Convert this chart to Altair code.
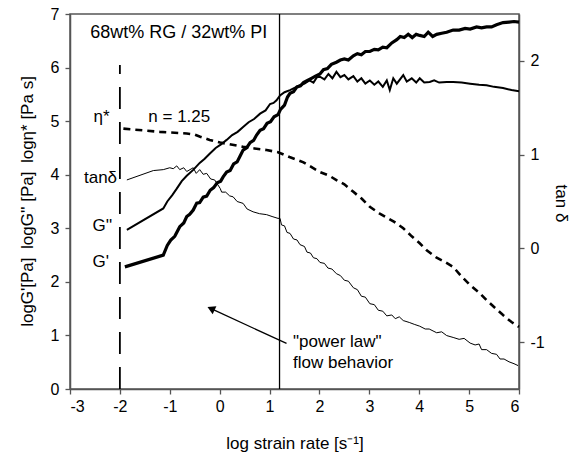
import altair as alt
import pandas as pd

FONT = "Liberation Sans"

# ---- G' (storage modulus, log Pa) ----
gp_x = [-1.90, -1.13, -1.05, -0.98, -0.90, -0.80, -0.72, -0.66, -0.60, -0.53, -0.46, -0.40, -0.33, -0.26,
        -0.19, -0.12, -0.05, 0.02, 0.07, 0.14, 0.21, 0.28, 0.35, 0.41, 0.47, 0.54, 0.61, 0.68, 0.74, 0.81,
        0.88, 0.95, 1.02, 1.09, 1.17, 1.22, 1.30, 1.36, 1.41, 1.48, 1.55, 1.62, 1.68, 1.76, 1.84, 1.92,
        2.01, 2.08, 2.16, 2.24, 2.34, 2.42, 2.50, 2.58, 2.68, 2.76, 2.84, 2.92, 3.01, 3.10, 3.18, 3.27,
        3.35, 3.45, 3.55, 3.62, 3.70, 3.78, 3.86, 3.94, 4.01, 4.10, 4.18, 4.27, 4.35, 4.45, 4.55, 4.68,
        4.80, 4.92, 5.02, 5.15, 5.25, 5.35, 5.45, 5.55, 5.68, 5.80, 5.90, 6.00]
gp_y = [2.28, 2.50, 2.68, 2.78, 2.85, 3.03, 3.10, 3.22, 3.26, 3.34, 3.47, 3.48, 3.58, 3.60,
        3.71, 3.76, 3.85, 3.88, 3.96, 4.05, 4.08, 4.20, 4.24, 4.35, 4.46, 4.50, 4.60, 4.64, 4.74, 4.83,
        4.86, 4.96, 4.99, 5.08, 5.12, 5.22, 5.30, 5.45, 5.52, 5.55, 5.64, 5.66, 5.72, 5.76, 5.80, 5.84,
        5.88, 5.96, 5.98, 6.06, 6.10, 6.14, 6.16, 6.14, 6.22, 6.26, 6.24, 6.30, 6.30, 6.34, 6.33, 6.38,
        6.37, 6.46, 6.52, 6.58, 6.56, 6.62, 6.56, 6.62, 6.60, 6.58, 6.66, 6.58, 6.62, 6.64, 6.66, 6.70,
        6.70, 6.73, 6.72, 6.76, 6.74, 6.76, 6.76, 6.80, 6.84, 6.85, 6.86, 6.85]

# ---- G'' (loss modulus, log Pa) ----
gpp_x = [-1.86, -1.13, -1.05, -0.95, -0.86, -0.76, -0.66, -0.53, -0.40, -0.30, -0.19, -0.08, 0.02, 0.14,
         0.25, 0.36, 0.47, 0.58, 0.69, 0.81, 0.92, 1.01, 1.08, 1.14, 1.21, 1.30, 1.41, 1.50, 1.61, 1.70,
         1.80, 1.88, 1.95, 2.01, 2.10, 2.18, 2.26, 2.34, 2.42, 2.50, 2.58, 2.68, 2.76, 2.84, 2.92, 3.01,
         3.10, 3.18, 3.27, 3.35, 3.41, 3.48, 3.55, 3.68, 3.75, 3.85, 3.94, 4.01, 4.10, 4.21, 4.30, 4.40,
         4.55, 4.68, 4.85, 5.02, 5.20, 5.35, 5.50, 5.68, 5.85, 6.00]
gpp_y = [2.97, 3.37, 3.50, 3.62, 3.74, 3.88, 3.98, 4.09, 4.22, 4.30, 4.40, 4.50, 4.56, 4.65,
         4.74, 4.80, 4.89, 4.98, 5.04, 5.14, 5.20, 5.32, 5.34, 5.39, 5.48, 5.54, 5.58, 5.62, 5.67, 5.70,
         5.76, 5.72, 5.82, 5.83, 5.78, 5.88, 5.80, 5.92, 5.82, 5.86, 5.78, 5.84, 5.74, 5.80, 5.70, 5.76,
         5.68, 5.74, 5.64, 5.76, 5.58, 5.80, 5.70, 5.86, 5.74, 5.80, 5.72, 5.80, 5.72, 5.73, 5.76, 5.72,
         5.73, 5.73, 5.72, 5.70, 5.68, 5.67, 5.64, 5.62, 5.58, 5.56]

# ---- complex viscosity eta* (log Pa s) ----
eta_x = [-1.93, -1.20, -0.66, -0.50, -0.39, -0.20, 0.01, 0.20, 0.47, 0.70, 0.94, 1.17, 1.40, 1.68,
         2.01, 2.20, 2.34, 2.50, 2.68, 2.85, 3.01, 3.20, 3.35, 3.50, 3.68, 3.85, 4.01, 4.15, 4.35,
         4.50, 4.68, 4.85, 5.02, 5.20, 5.35, 5.50, 5.68, 5.85, 6.00]
eta_y = [4.86, 4.80, 4.77, 4.75, 4.71, 4.65, 4.60, 4.57, 4.52, 4.49, 4.46, 4.42, 4.33, 4.23,
         4.05, 3.98, 3.90, 3.82, 3.68, 3.55, 3.40, 3.28, 3.20, 3.12, 3.00, 2.85, 2.72, 2.59, 2.45,
         2.38, 2.28, 2.10, 1.94, 1.80, 1.66, 1.53, 1.38, 1.25, 1.16]

# ---- tan delta (right axis) ----
tan_x = [-1.86, -1.33, -1.13, -1.00, -0.93, -0.86, -0.80, -0.72, -0.66, -0.53, -0.47, -0.40, -0.33,
         -0.26, -0.18, -0.10, 0.01, 0.04, 0.12, 0.20, 0.27, 0.35, 0.47, 0.55, 0.67, 0.80, 0.94, 1.05,
         1.17, 1.21, 1.24, 1.30, 1.35, 1.41, 1.48, 1.55, 1.61, 1.70, 1.75, 1.82, 1.88, 1.95, 2.01, 2.10,
         2.17, 2.25, 2.34, 2.42, 2.50, 2.58, 2.68, 2.76, 2.84, 2.92, 3.01, 3.10, 3.18, 3.27, 3.35, 3.45,
         3.52, 3.60, 3.68, 3.80, 3.90, 4.01, 4.12, 4.20, 4.35, 4.45, 4.55, 4.68, 4.80, 4.90, 5.02, 5.12,
         5.20, 5.25, 5.35, 5.45, 5.55, 5.62, 5.70, 5.80, 5.90, 5.98]
tan_y = [0.73, 0.83, 0.84, 0.86, 0.85, 0.88, 0.84, 0.86, 0.82, 0.86, 0.80, 0.84, 0.79,
         0.80, 0.74, 0.73, 0.64, 0.60, 0.60, 0.56, 0.55, 0.50, 0.48, 0.42, 0.39, 0.37, 0.36, 0.34,
         0.32, 0.32, 0.25, 0.24, 0.17, 0.16, 0.10, 0.09, 0.04, 0.02, -0.04, -0.05, -0.10, -0.11, -0.15, -0.16,
         -0.21, -0.22, -0.27, -0.29, -0.34, -0.35, -0.42, -0.44, -0.51, -0.52, -0.59, -0.60, -0.66, -0.67, -0.72, -0.71,
         -0.75, -0.73, -0.77, -0.79, -0.81, -0.83, -0.86, -0.86, -0.90, -0.89, -0.93, -0.95, -0.97, -0.96, -1.01, -1.03,
         -1.02, -1.08, -1.08, -1.12, -1.13, -1.18, -1.18, -1.21, -1.23, -1.25]

# ---- annotations ----
lab_text = ["η*", "n = 1.25", "tanδ", "G''", "G'", "\"power law\"", "flow behavior"]
lab_x = [-2.53, -1.43, -2.72, -2.55, -2.55, 1.47, 1.47]
lab_y = [5.07, 5.07, 3.93, 3.04, 2.37, 0.88, 0.49]
title_text = ["68wt% RG / 32wt% PI"]
title_x = [-0.82]
title_y = [6.64]

vline_x = [-2.0, 1.2]
vline_y0 = [0.0, 0.0]
vline_y1 = [6.05, 7.0]

arrow_x0, arrow_y0 = [1.34], [0.85]
arrow_x1, arrow_y1 = [-0.15], [1.49]

xs = alt.Scale(domain=[-3, 6], nice=False, zero=False)
ys = alt.Scale(domain=[0, 7], nice=False, zero=False)
ts = alt.Scale(domain=[-1.5, 2.5], nice=False, zero=False)

AX = dict(labelFont=FONT, labelFontSize=16, labelColor="black", titleFont=FONT, titleFontSize=17,
          titleFontWeight="normal", titleColor="black", domainColor="#555", domainWidth=1.5,
          tickColor="#555", tickWidth=1.3, tickSize=5, grid=False,
          labelExpr="datum.value + ''")

SP = "\u2002"
xaxis = alt.Axis(values=list(range(-3, 7)), title="log strain rate [s⁻¹]",
                 labelPadding=4, titleY=59, titleBaseline="alphabetic", **AX)
yaxis = alt.Axis(values=list(range(0, 8)),
                 title=f"logG'[Pa]{SP}logG'' [Pa]{SP}logη* [Pa s]", labelPadding=6,
                 titleAngle=270, titleX=-38, titleY=187, titleAlign="center",
                 titleBaseline="alphabetic", **AX)
taxis = alt.Axis(values=[-1, 0, 1, 2], title="tan δ", orient="right",
                 labelPadding=6, titleAngle=90, titleX=36, titleY=189, titleAlign="center",
                 titleBaseline="alphabetic", **AX)

X = alt.X("x:Q", scale=xs, axis=xaxis)
Y = alt.Y("y:Q", scale=ys, axis=yaxis)

df_gp = pd.DataFrame({"x": gp_x, "y": gp_y})
df_gpp = pd.DataFrame({"x": gpp_x, "y": gpp_y})
df_eta = pd.DataFrame({"x": eta_x, "y": eta_y})
df_tan = pd.DataFrame({"x": tan_x, "y": tan_y})
df_lab = pd.DataFrame({"x": lab_x, "y": lab_y, "t": lab_text})
df_title = pd.DataFrame({"x": title_x, "y": title_y, "t": title_text})
df_v = pd.DataFrame({"x": vline_x, "y": vline_y0, "y2": vline_y1})
df_arrow = pd.DataFrame({"x": arrow_x0, "y": arrow_y0, "x2": arrow_x1, "y2": arrow_y1})
df_head = pd.DataFrame({"x": arrow_x1, "y": arrow_y1})

gp = alt.Chart(df_gp).mark_line(color="black", strokeWidth=3.2).encode(x=X, y=Y, order="x:Q")
gpp = alt.Chart(df_gpp).mark_line(color="black", strokeWidth=2).encode(x=X, y=Y, order="x:Q")
eta = alt.Chart(df_eta).mark_line(color="black", strokeWidth=2.6, strokeDash=[7, 5]).encode(x=X, y=Y, order="x:Q")

vdash = alt.Chart(df_v.iloc[[0]]).mark_rule(color="black", strokeWidth=1.8, strokeDash=[22, 13]).encode(
    x=X, y=Y, y2="y2:Q")
vsolid = alt.Chart(df_v.iloc[[1]]).mark_rule(color="black", strokeWidth=1.3).encode(
    x=X, y=Y, y2="y2:Q")

arrow = alt.Chart(df_arrow).mark_rule(color="black", strokeWidth=1.3).encode(
    x=X, y=Y, x2="x2:Q", y2="y2:Q")
head = alt.Chart(df_head).mark_point(shape="triangle", filled=True, size=80, angle=294.5,
                                     color="black", opacity=1).encode(x=X, y=Y)

labels = alt.Chart(df_lab).mark_text(align="left", baseline="middle", font=FONT, fontSize=17,
                                     color="black").encode(x=X, y=Y, text="t:N")
title = alt.Chart(df_title).mark_text(align="center", baseline="middle", font=FONT, fontSize=18,
                                      color="black").encode(x=X, y=Y, text="t:N")

left = alt.layer(vdash, vsolid, gpp, gp, eta, arrow, head, labels, title)

tan = alt.Chart(df_tan).mark_line(color="black", strokeWidth=1).encode(
    x=X, y=alt.Y("y:Q", scale=ts, axis=taxis), order="x:Q")

chart = alt.layer(left, tan).resolve_scale(y="independent").properties(
    width=449, height=375,
    autosize=alt.AutoSizeParams(type="none"),
    padding={"left": 70, "top": 14, "right": 60, "bottom": 65},
    background="white",
).configure_view(stroke="#555", strokeWidth=1.5)

chart.save("out.html", embed_options={"renderer": "svg", "actions": False})
